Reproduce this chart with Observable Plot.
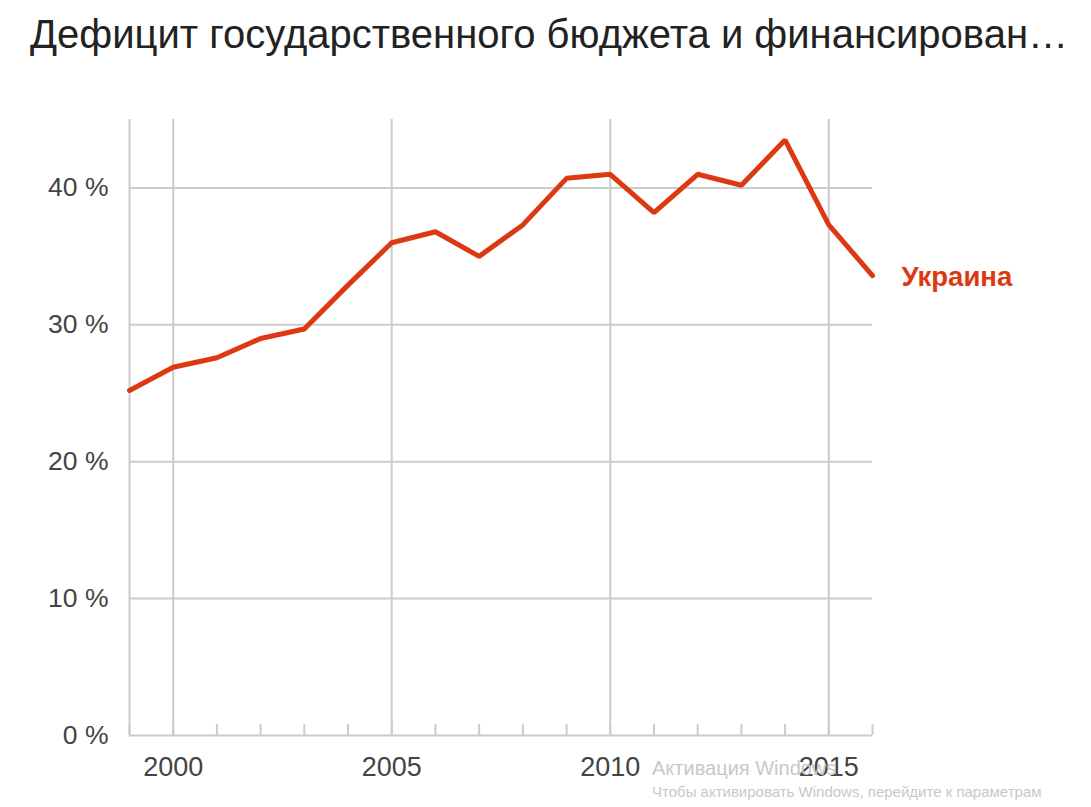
<!DOCTYPE html>
<html><head><meta charset="utf-8">
<script src="https://cdn.jsdelivr.net/npm/d3@7"></script>
<script src="https://cdn.jsdelivr.net/npm/@observablehq/plot@0.6"></script>
<style>
body{margin:0;background:#fff;font-family:"Liberation Sans",Arial,sans-serif;}
#wrap{position:relative;width:1091px;height:807px;overflow:hidden}
#title{position:absolute;left:30px;top:12px;font-size:40px;color:#222;white-space:nowrap}
#chart{position:absolute;left:0;top:90px}
.wm{position:absolute;color:#c8c8c8;white-space:nowrap}
</style></head><body>
<div id="wrap">
<div id="title">Дефицит государственного бюджета и финансирован…</div>
<div id="chart"></div>
<div class="wm" style="left:652px;top:757px;font-size:20px">Активация Windows</div>
<div class="wm" style="left:652px;top:783px;font-size:15px">Чтобы активировать Windows, перейдите к параметрам</div>
</div>
<script>
const years = [1999,2000,2001,2002,2003,2004,2005,2006,2007,2008,2009,2010,2011,2012,2013,2014,2015,2016];
const values = [25.2,26.9,27.6,29.0,29.7,32.9,36.0,36.8,35.0,37.3,40.7,41.0,38.2,41.0,40.2,43.5,37.3,33.6];
const seriesName = "Украина";
const yTicks = [0,10,20,30,40];
const xLabelTicks = [2000,2005,2010,2015];
const xGridYears = [1999,2000,2005,2010,2015];

const data = years.map((y,i)=>({year:y, value:values[i]}));
const W = 1091, H = 717, mt = 29, mb = 72, ml = 129, mr = 219;
const red = "#dc3912";
const grid = "#cccccc";
const chart = Plot.plot({
  width: W, height: H,
  marginTop: mt, marginBottom: mb, marginLeft: ml, marginRight: mr,
  style: {fontFamily: '"Liberation Sans", Arial, sans-serif', background: "#fff"},
  x: {domain: [1999, 2016]},
  y: {domain: [0, 45]},
  marks: [
    Plot.ruleY(yTicks, {stroke: grid, strokeWidth: 2}),
    Plot.ruleX(xGridYears, {stroke: grid, strokeWidth: 2}),
    Plot.ruleX(years, {stroke: grid, strokeWidth: 2, insetTop: H - mt - mb - 11}),
    Plot.axisY(yTicks, {tickSize: 0, tickPadding: 21, fontSize: 26.5, fill: "#444", tickFormat: d => d + " %", label: null}),
    Plot.axisX(xLabelTicks, {tickSize: 0, tickPadding: 21, fontSize: 27, fill: "#444", tickFormat: d => String(d), label: null}),
    Plot.line(data, {x: "year", y: "value", stroke: red, strokeWidth: 5, strokeLinejoin: "miter"}),
    Plot.text([data[data.length-1]], {x: "year", y: "value", text: () => seriesName, dx: 29, dy: 2, textAnchor: "start", fontWeight: "bold", fontSize: 27.5, fill: red})
  ]
});
document.getElementById("chart").appendChild(chart);
</script>
</body></html>
